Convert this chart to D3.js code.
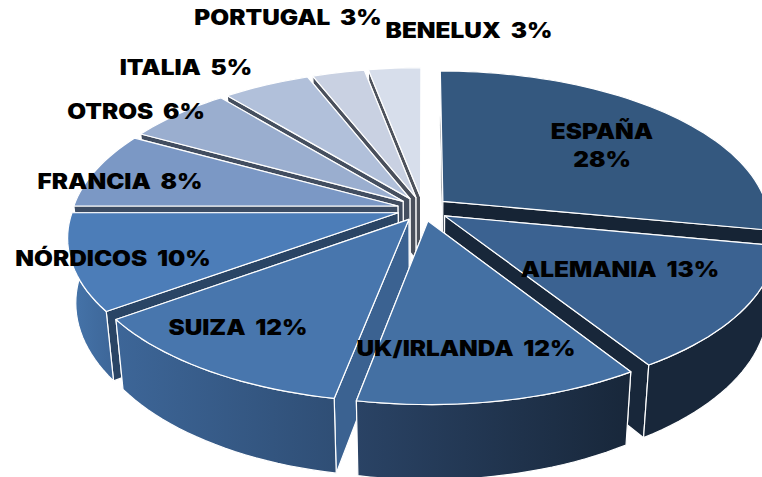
<!DOCTYPE html>
<html>
<head>
<meta charset="utf-8">
<script src="https://cdn.jsdelivr.net/npm/d3@7"></script>
<style>
  html, body { margin: 0; padding: 0; background: #fff; }
  svg { display: block; }
  text { font-family: Inter, "Open Sans", sans-serif; font-weight: 900; font-size: 21px; fill: #000; }
</style>
</head>
<body>
<svg></svg>
<script>
var categories = ['ESPAÑA', 'ALEMANIA', 'UK/IRLANDA', 'SUIZA', 'NÓRDICOS', 'FRANCIA', 'OTROS', 'ITALIA', 'PORTUGAL', 'BENELUX'];
var shares = [28, 13, 12, 12, 10, 8, 6, 5, 3, 3];

var topColors = ['#34587f', '#3b6291', '#4470a3', '#4876ad', '#4c7db8', '#7b98c5', '#9aaecf', '#b1c0da', '#c9d1e2', '#d7deeb'];
var wallFrom = ['#162435', '#18273a', '#2a4365', '#3d6698', '#4675ab', '#3c4c63', '#414d60', '#454f5f', '#4a505c', '#4d525c'];
var wallTo = ['#162435', '#18273a', '#18273a', '#2f4e75', '#3d6698', '#3c4c63', '#414d60', '#454f5f', '#4a505c', '#4d525c'];
var cutColors = ['#162435', '#18273a', '#18273a', '#3b6291', '#2a4565', '#3c4c63', '#414d60', '#454f5f', '#4a505c', '#4d525c'];

// where each label sits (centre of the text, px)
var labelAt = [[602, 146], [620, 269], [466, 348], [238, 327], [113, 258], [120, 181], [136, 111], [186, 67], [288, 17], [469, 30]];

var width = 762;
var height = 477;

var CENTER_X = 423;
var CENTER_Y = 209;
var RADIUS_X = 325;
var RADIUS_Z = 152;
var PERSPECTIVE = 0.15;
var EXPLODE = 0.08;
var DEPTH = 63;
var DEPTH_SHRINK = 0.023;
var TEXT_STRETCH = 1.16;

var x = d3.scaleLinear().domain([-1, 1]).range([CENTER_X - RADIUS_X, CENTER_X + RADIUS_X]);
var y = d3.scaleLinear().domain([-1, 1]).range([CENTER_Y - RADIUS_Z, CENTER_Y + RADIUS_Z]);

var svg = d3.select('svg').attr('width', width).attr('height', height);
var defs = svg.append('defs');
var line = d3.line();

var slices = d3.pie().sort(null)(shares).map(function(d, i){
  d.i = i;
  d.mid = (d.startAngle + d.endAngle) / 2;
  d.offX = Math.sin(d.mid) * EXPLODE;
  d.offZ = -Math.cos(d.mid) * EXPLODE;
  return d;
});

function project(d, angle, r, down){
  var X = r * Math.sin(angle) + d.offX;
  var Z = -r * Math.cos(angle) + d.offZ;
  var s = 1 / (1 - PERSPECTIVE * Z);
  return [x(X * s * (1 - DEPTH_SHRINK * down)), y(Z * s) + down * DEPTH * s];
}

function arcPoints(d, down, reverse){
  var n = Math.max(4, Math.ceil((d.endAngle - d.startAngle) * 30));
  var pts = d3.range(n + 1).map(function(k){
    return project(d, d.startAngle + (d.endAngle - d.startAngle) * k / n, 1, down);
  });
  return reverse ? pts.reverse() : pts;
}

slices.forEach(function(d){
  var grad = defs.append('linearGradient').attr('id', 'wall' + d.i);
  grad.append('stop').attr('offset', 0).attr('stop-color', wallFrom[d.i]);
  grad.append('stop').attr('offset', 1).attr('stop-color', wallTo[d.i]);
});

// back slices first, so the front ones paint over them
var order = slices.slice().sort(function(a, b){ return a.offZ - b.offZ; });

svg.selectAll('g.slice')
  .data(order)
  .enter()
  .append('g')
  .attr('class', 'slice')
  .attr('stroke', '#fff')
  .attr('stroke-width', 1.2)
  .attr('stroke-linejoin', 'round')
  .each(function(d){
    var g = d3.select(this);

    var walls = [d.startAngle, d.endAngle].map(function(a){
      return {
        z: -0.5 * Math.cos(a) + d.offZ,
        fill: cutColors[d.i],
        pts: [project(d, 0, 0, 0), project(d, a, 1, 0), project(d, a, 1, 1), project(d, 0, 0, 1)]
      };
    });

    walls.push({
      z: -Math.cos(d.mid) + d.offZ,
      fill: 'url(#wall' + d.i + ')',
      pts: arcPoints(d, 0).concat(arcPoints(d, 1, true))
    });

    walls.sort(function(a, b){ return a.z - b.z; }).forEach(function(w){
      g.append('path').attr('d', line(w.pts) + 'Z').attr('fill', w.fill);
    });

    g.append('path')
      .attr('d', line([project(d, 0, 0, 0)].concat(arcPoints(d, 0))) + 'Z')
      .attr('fill', topColors[d.i]);
  });

var labels = svg.selectAll('text.label')
  .data(slices)
  .enter()
  .append('text')
  .attr('class', 'label')
  .attr('text-anchor', 'middle')
  .attr('transform', function(d){ return 'translate(' + labelAt[d.i] + ') scale(' + TEXT_STRETCH + ',1)'; })
  .each(function(d){
    var t = d3.select(this);
    var name = categories[d.i];
    var pct = shares[d.i] + '%';
    if(d.i === 0){
      t.append('tspan').attr('x', 0).attr('y', -7).text(name);
      t.append('tspan').attr('x', 0).attr('y', 21).text(pct);
    } else {
      t.append('tspan').attr('x', 0).attr('y', 7.5).text(name + '\u00a0\u00a0' + pct);
    }
  });
</script>
</body>
</html>
